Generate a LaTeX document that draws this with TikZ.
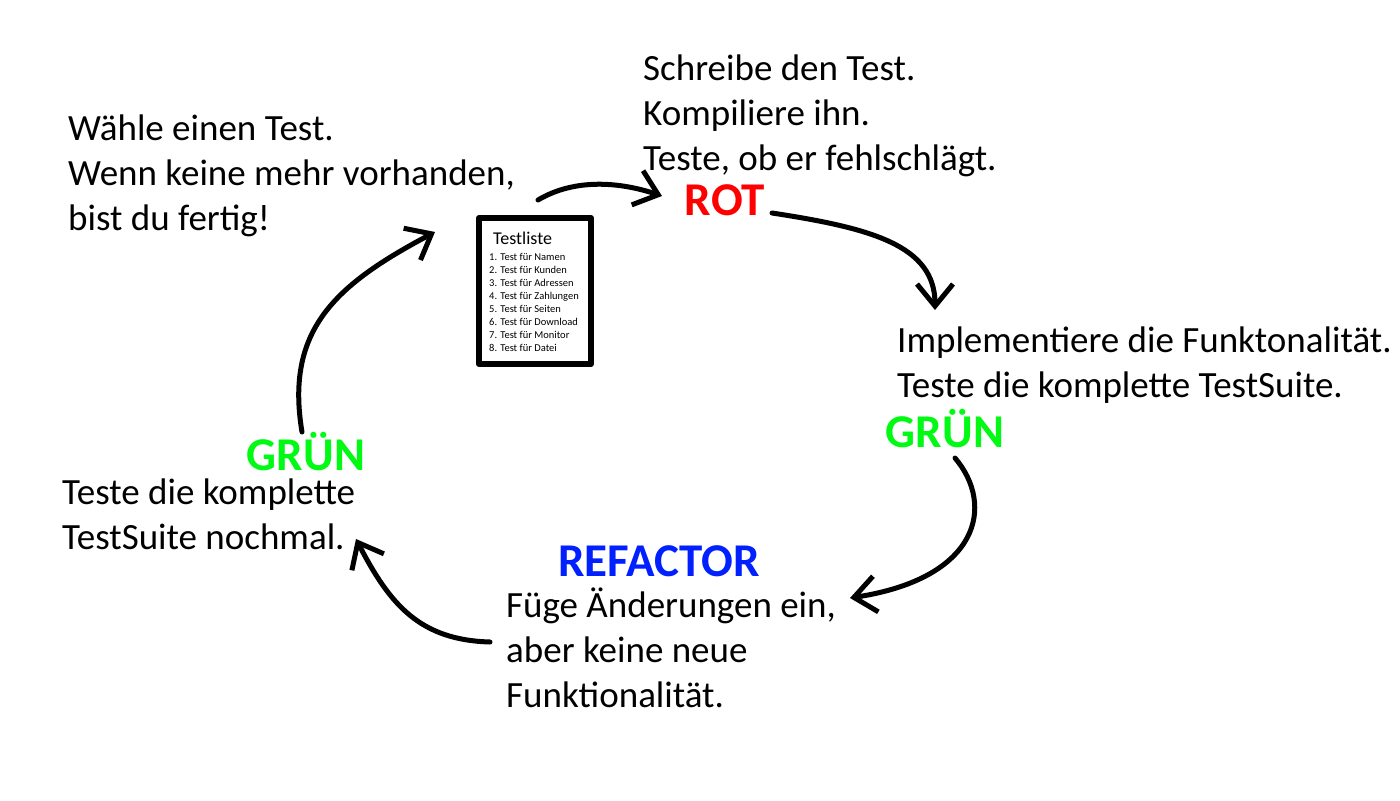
\documentclass[tikz,border=0pt]{standalone}
\usepackage{fontspec}
\setmainfont{Carlito}
\usetikzlibrary{arrows.meta}
\definecolor{rot}{RGB}{255,0,0}
\definecolor{gruen}{RGB}{0,250,20}
\definecolor{blau}{RGB}{0,32,255}
\begin{document}
\begin{tikzpicture}[x=1bp,y=-1bp, line join=round, line cap=round,
	txt/.style={inner sep=0pt, anchor=base west, align=left, font=\fontsize{37bp}{45bp}\selectfont},
	stufe/.style={inner sep=0pt, anchor=base, font=\bfseries\fontsize{47bp}{52bp}\selectfont},
	pfeil/.style={line width=5bp, -{Straight Barb[length=22bp,width=36bp]}}]
	\useasboundingbox[fill=white] (0,0) rectangle (1400,800);
	% Testliste
	\node[draw, line width=6bp, minimum width=112bp, minimum height=146bp, inner sep=0pt] (liste) at (535,291) {};
	\node[anchor=base west, inner sep=0pt, font=\fontsize{18bp}{22bp}\selectfont] (titel) at (493,244) {Testliste};
	\foreach \i/\t in {1/Namen,2/Kunden,3/Adressen,4/Zahlungen,5/Seiten,6/Download,7/Monitor,8/Datei}
		\node[anchor=base west, inner sep=0pt, font=\fontsize{10.5bp}{12bp}\selectfont] (t\i) at (489,{247+13*\i}) {\i. Test für \t};
	% Texte (Basislinie der letzten Zeile)
	\node[txt] (waehle) at (68,230) {Wähle einen Test.\\Wenn keine mehr vorhanden,\\bist du fertig!};
	\node[txt] (schreibe) at (643,170) {Schreibe den Test.\\Kompiliere ihn.\\Teste, ob er fehlschlägt.};
	\node[txt] (impl) at (897,397) {Implementiere die Funktonalität.\\Teste die komplette TestSuite.};
	\node[txt] (nochmal) at (62,549) {Teste die komplette\\TestSuite nochmal.};
	\node[txt] (fuege) at (506,707) {Füge Änderungen ein,\\aber keine neue\\Funktionalität.};
	% Stufen
	\node[stufe, text=rot] (rot) at (725,215) {ROT};
	\node[stufe, text=gruen] (gruen1) at (945,447) {GRÜN};
	\node[stufe, text=blau] (refactor) at (659,576) {REFACTOR};
	\node[stufe, text=gruen] (gruen2) at (306,470) {GRÜN};
	% Pfeile
	\coordinate (a1) at (538,200); \coordinate (b1) at (662,196);
	\coordinate (a2) at (772,213); \coordinate (b2) at (935,310);
	\coordinate (a3) at (955,458); \coordinate (b3) at (850,598);
	\coordinate (a4) at (490,642); \coordinate (b4) at (356,539);
	\coordinate (a5) at (302,432); \coordinate (b5) at (435,232);
	\draw[pfeil] (a1) .. controls (575,178) and (620,182) .. (b1);
	\draw[pfeil] (a2) .. controls (870,228) and (935,245) .. (b2);
	\draw[pfeil] (a3) .. controls (995,505) and (980,578) .. (b3);
	\draw[pfeil] (a4) .. controls (420,640) and (390,605) .. (b4);
	\draw[pfeil] (a5) .. controls (285,330) and (335,285) .. (b5);
\end{tikzpicture}
\end{document}
